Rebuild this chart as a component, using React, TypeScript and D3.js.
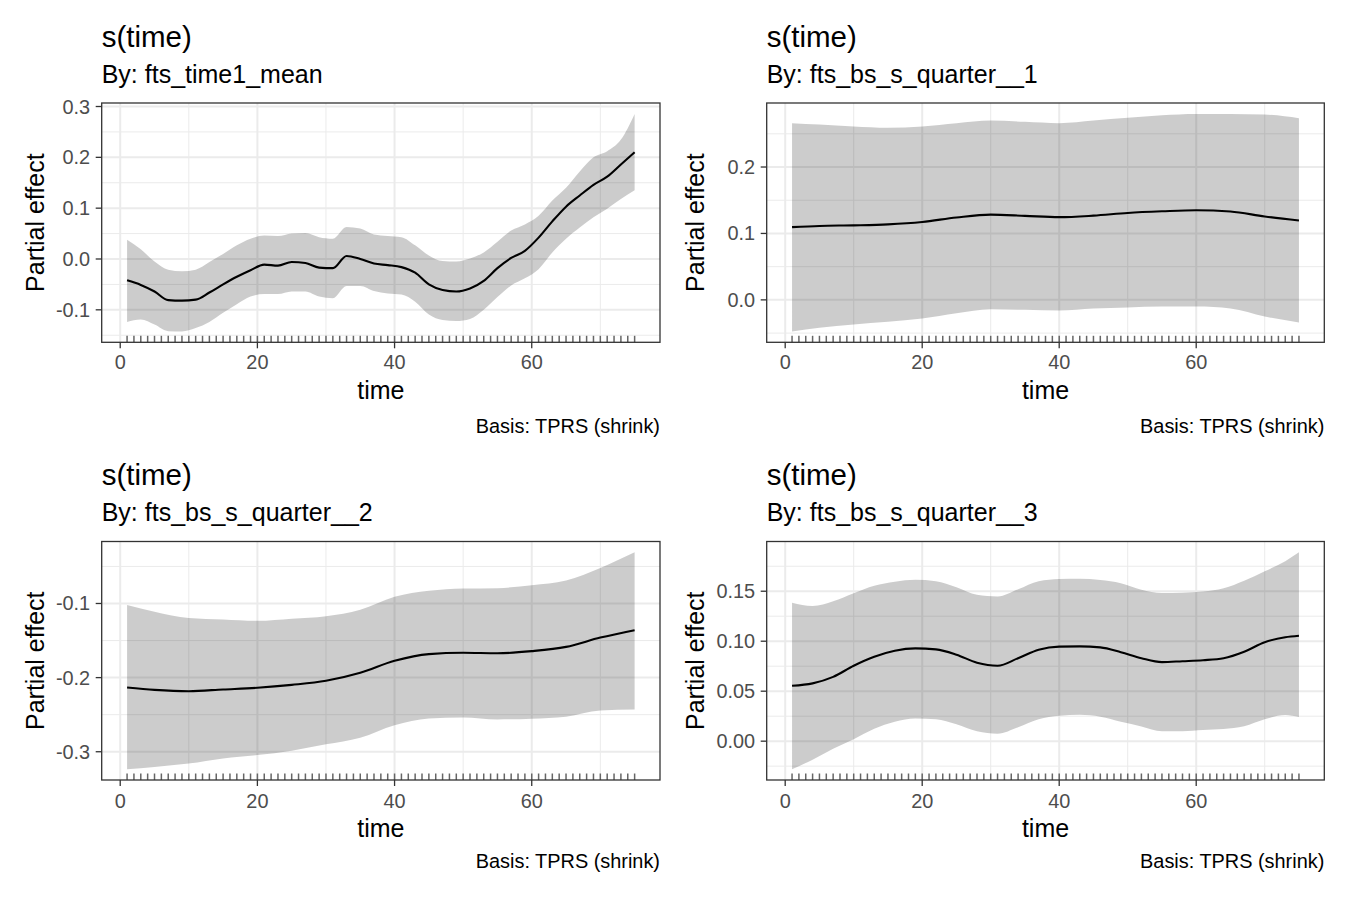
import * as d3 from "d3";

// observation times used for the rug
const OBS_TIME = [
  1, 2, 3, 4, 5, 6, 7, 8, 9, 10, 11, 12, 13, 14, 15, 16, 17, 18, 19, 20, 21, 22, 23, 24, 25,
  26, 27, 28, 29, 30, 31, 32, 33, 34, 35, 36, 37, 38, 39, 40, 41, 42, 43, 44, 45, 46, 47, 48, 49, 50,
  51, 52, 53, 54, 55, 56, 57, 58, 59, 60, 61, 62, 63, 64, 65, 66, 67, 68, 69, 70, 71, 72, 73, 74, 75,
];

// s(time) by fts_time1_mean
const TIME_1 = [1, 3, 5, 7, 9, 11, 13, 15, 17, 19, 21, 23, 25, 27, 29, 31, 33, 35, 37, 39, 41, 43, 45, 47, 49, 51, 53, 55, 57, 59, 61, 63, 65, 67, 69, 71, 73, 75];
const FIT_1 = [-0.042, -0.051, -0.064, -0.081, -0.082, -0.08, -0.066, -0.05, -0.035, -0.022, -0.011, -0.013, -0.006, -0.008, -0.017, -0.018, 0.006, 0.0, -0.009, -0.012, -0.016, -0.027, -0.05, -0.061, -0.064, -0.058, -0.043, -0.018, 0.002, 0.016, 0.042, 0.074, 0.103, 0.125, 0.146, 0.162, 0.186, 0.21];
const UPPER_1 = [0.038, 0.019, -0.005, -0.021, -0.024, -0.021, -0.006, 0.01, 0.027, 0.04, 0.046, 0.045, 0.05, 0.051, 0.043, 0.04, 0.063, 0.06, 0.048, 0.045, 0.043, 0.027, 0.007, -0.004, -0.005, 0.001, 0.013, 0.034, 0.056, 0.068, 0.085, 0.115, 0.14, 0.172, 0.2, 0.212, 0.235, 0.2855];
const LOWER_1 = [-0.124, -0.119, -0.129, -0.142, -0.1425, -0.136, -0.124, -0.106, -0.089, -0.074, -0.069, -0.069, -0.064, -0.064, -0.074, -0.077, -0.053, -0.053, -0.063, -0.068, -0.07, -0.084, -0.109, -0.12, -0.122, -0.118, -0.1, -0.075, -0.052, -0.038, -0.02, 0.013, 0.04, 0.062, 0.082, 0.099, 0.118, 0.135];

// s(time) by fts_bs_s_quarter__1 and __2
const TIME_Q = [1, 5, 10, 15, 20, 25, 30, 35, 40, 45, 50, 55, 60, 65, 70, 75];
const FIT_2 = [0.1095, 0.1113, 0.1122, 0.1137, 0.1173, 0.124, 0.1283, 0.1265, 0.1245, 0.1268, 0.1308, 0.1333, 0.135, 0.133, 0.1255, 0.1195];
const UPPER_2 = [0.266, 0.264, 0.261, 0.259, 0.261, 0.266, 0.27, 0.268, 0.266, 0.27, 0.274, 0.278, 0.28, 0.28, 0.279, 0.2735];
const LOWER_2 = [-0.0475, -0.042, -0.037, -0.033, -0.028, -0.02, -0.014, -0.015, -0.016, -0.013, -0.0115, -0.01, -0.01, -0.013, -0.025, -0.034];

const FIT_3 = [-0.2133, -0.2165, -0.2183, -0.216, -0.2137, -0.2098, -0.2043, -0.1935, -0.1773, -0.1683, -0.1665, -0.1672, -0.1643, -0.1585, -0.146, -0.136];
const UPPER_3 = [-0.1022, -0.111, -0.1195, -0.1215, -0.1234, -0.1205, -0.1173, -0.1085, -0.091, -0.0829, -0.0798, -0.0793, -0.0753, -0.069, -0.052, -0.031];
const LOWER_3 = [-0.3235, -0.3205, -0.316, -0.309, -0.3045, -0.2985, -0.29, -0.281, -0.2641, -0.2551, -0.2537, -0.2564, -0.2555, -0.2528, -0.2445, -0.2429];

// s(time) by fts_bs_s_quarter__3
const TIME_4 = [1, 4, 7, 10, 13, 16, 19, 22, 25, 28, 31, 34, 37, 40, 43, 46, 49, 52, 55, 58, 61, 64, 67, 70, 73, 75];
const FIT_4 = [0.0554, 0.0578, 0.0643, 0.0755, 0.0845, 0.0905, 0.0928, 0.0918, 0.0865, 0.0785, 0.0755, 0.083, 0.0915, 0.0946, 0.0948, 0.0938, 0.089, 0.083, 0.0791, 0.08, 0.081, 0.083, 0.0895, 0.099, 0.104, 0.1055];
const UPPER_4 = [0.1385, 0.1352, 0.14, 0.148, 0.1555, 0.1595, 0.1615, 0.16, 0.154, 0.1465, 0.1448, 0.152, 0.16, 0.1622, 0.1625, 0.1612, 0.158, 0.1515, 0.1482, 0.1486, 0.1497, 0.153, 0.1605, 0.17, 0.18, 0.1889];
const LOWER_4 = [-0.028, -0.0185, -0.0075, 0.002, 0.0125, 0.0195, 0.0228, 0.022, 0.017, 0.01, 0.0075, 0.014, 0.022, 0.0255, 0.0264, 0.0245, 0.0195, 0.0148, 0.01, 0.01, 0.0112, 0.0122, 0.015, 0.022, 0.0262, 0.0241];

const X_TICKS = [0, 20, 40, 60];
const Y_TICKS_1 = [-0.1, 0, 0.1, 0.2, 0.3];
const Y_TICKS_2 = [0, 0.1, 0.2];
const Y_TICKS_3 = [-0.3, -0.2, -0.1];
const Y_TICKS_4 = [0, 0.05, 0.1, 0.15];

const SUBTITLES = ["By: fts_time1_mean", "By: fts_bs_s_quarter__1", "By: fts_bs_s_quarter__2", "By: fts_bs_s_quarter__3"];

const FONT = "'Liberation Sans', Arial, Helvetica, sans-serif";
const W = 1350;
const H = 900;

const COLS = [
  { left: 101.7, right: 660, yTitleX: 44 },
  { left: 766.7, right: 1324.3, yTitleX: 704 },
];
const ROWS = [
  { top: 103, bottom: 342.3, title: 46.7, subtitle: 83.3, tickLabel: 369, axisTitle: 399.3, caption: 433.3 },
  { top: 541.5, bottom: 780, title: 484.7, subtitle: 521.3, tickLabel: 807.7, axisTitle: 837.3, caption: 868.3 },
];

interface PanelSpec {
  time: number[];
  fit: number[];
  upper: number[];
  lower: number[];
  yTicks: number[];
  digits: number;
  subtitle: string;
  col: number;
  row: number;
}

const PANELS: PanelSpec[] = [
  { time: TIME_1, fit: FIT_1, upper: UPPER_1, lower: LOWER_1, yTicks: Y_TICKS_1, digits: 1, subtitle: SUBTITLES[0], col: 0, row: 0 },
  { time: TIME_Q, fit: FIT_2, upper: UPPER_2, lower: LOWER_2, yTicks: Y_TICKS_2, digits: 1, subtitle: SUBTITLES[1], col: 1, row: 0 },
  { time: TIME_Q, fit: FIT_3, upper: UPPER_3, lower: LOWER_3, yTicks: Y_TICKS_3, digits: 1, subtitle: SUBTITLES[2], col: 0, row: 1 },
  { time: TIME_4, fit: FIT_4, upper: UPPER_4, lower: LOWER_4, yTicks: Y_TICKS_4, digits: 2, subtitle: SUBTITLES[3], col: 1, row: 1 },
];

// ggplot-style 5% expansion
function expand([a, b]: [number, number]): [number, number] {
  const pad = (b - a) * 0.05;
  return [a - pad, b + pad];
}

// minor breaks half way between majors, inside the limits
function minorBreaks(major: number[], domain: [number, number]) {
  const step = major[1] - major[0];
  const ext = [major[0] - step, ...major, major[major.length - 1] + step];
  const out: number[] = [];
  for (let i = 0; i < ext.length - 1; i++) out.push((ext[i] + ext[i + 1]) / 2);
  return out.filter((v) => v > domain[0] && v < domain[1]);
}

function Panel({ spec }: { spec: PanelSpec }) {
  const c = COLS[spec.col];
  const r = ROWS[spec.row];

  const xDomain = expand(d3.extent(OBS_TIME) as [number, number]);
  const x = d3.scaleLinear().domain(xDomain).range([c.left, c.right]);
  const yDomain = expand([d3.min(spec.lower)!, d3.max(spec.upper)!]);
  const y = d3.scaleLinear().domain(yDomain).range([r.bottom, r.top]);

  const rows = spec.time.map((t, i) => ({ t, fit: spec.fit[i], lo: spec.lower[i], hi: spec.upper[i] }));
  const area = d3
    .area<(typeof rows)[number]>()
    .x((d) => x(d.t))
    .y0((d) => y(d.lo))
    .y1((d) => y(d.hi))
    .curve(d3.curveMonotoneX);
  const line = d3
    .line<(typeof rows)[number]>()
    .x((d) => x(d.t))
    .y((d) => y(d.fit))
    .curve(d3.curveMonotoneX);

  const xMajor = X_TICKS.filter((v) => v >= xDomain[0] && v <= xDomain[1]);
  const xMinor = minorBreaks(X_TICKS, xDomain);
  const yMinor = minorBreaks(spec.yTicks, yDomain);
  const fmt = (v: number) => d3.format(`.${spec.digits}f`)(v).replace("\u2212", "-");
  const midY = (r.top + r.bottom) / 2;

  return (
    <g>
      <text x={c.left} y={r.title} fontSize={29.5} fill="#000">s(time)</text>
      <text x={c.left} y={r.subtitle} fontSize={25} fill="#000">{spec.subtitle}</text>

      {/* grid */}
      {yMinor.map((v) => (
        <line key={`ym${v}`} x1={c.left} x2={c.right} y1={y(v)} y2={y(v)} stroke="#ebebeb" strokeWidth={1} />
      ))}
      {xMinor.map((v) => (
        <line key={`xm${v}`} x1={x(v)} x2={x(v)} y1={r.top} y2={r.bottom} stroke="#ebebeb" strokeWidth={1} />
      ))}
      {spec.yTicks.map((v) => (
        <line key={`yM${v}`} x1={c.left} x2={c.right} y1={y(v)} y2={y(v)} stroke="#ebebeb" strokeWidth={2} />
      ))}
      {xMajor.map((v) => (
        <line key={`xM${v}`} x1={x(v)} x2={x(v)} y1={r.top} y2={r.bottom} stroke="#ebebeb" strokeWidth={2} />
      ))}

      {/* confidence band and fit */}
      <path d={area(rows) ?? ""} fill="#000" fillOpacity={0.2} />
      <path d={line(rows) ?? ""} fill="none" stroke="#000" strokeWidth={2.1} />

      {/* rug */}
      {OBS_TIME.map((t) => (
        <line key={`r${t}`} x1={x(t)} x2={x(t)} y1={r.bottom} y2={r.bottom - 6.5} stroke="#666" strokeWidth={1.5} />
      ))}

      <rect x={c.left} y={r.top} width={c.right - c.left} height={r.bottom - r.top} fill="none" stroke="#333" strokeWidth={1.3} />

      {/* x axis */}
      {xMajor.map((v) => (
        <g key={`xt${v}`}>
          <line x1={x(v)} x2={x(v)} y1={r.bottom} y2={r.bottom + 6} stroke="#333" strokeWidth={1.3} />
          <text x={x(v)} y={r.tickLabel} fontSize={19.9} fill="#4d4d4d" textAnchor="middle">{v}</text>
        </g>
      ))}
      <text x={(c.left + c.right) / 2} y={r.axisTitle} fontSize={25} fill="#000" textAnchor="middle">time</text>

      {/* y axis */}
      {spec.yTicks.map((v) => (
        <g key={`yt${v}`}>
          <line x1={c.left - 6} x2={c.left} y1={y(v)} y2={y(v)} stroke="#333" strokeWidth={1.3} />
          <text x={c.left - 11.5} y={y(v) + 7} fontSize={19.9} fill="#4d4d4d" textAnchor="end">{fmt(v)}</text>
        </g>
      ))}
      <text
        transform={`translate(${c.yTitleX},${midY}) rotate(-90)`}
        fontSize={25}
        fill="#000"
        textAnchor="middle"
      >
        Partial effect
      </text>

      <text x={c.right} y={r.caption} fontSize={19.9} fill="#000" textAnchor="end">Basis: TPRS (shrink)</text>
    </g>
  );
}

export default function App() {
  return (
    <svg
      width={W}
      height={H}
      viewBox={`0 0 ${W} ${H}`}
      style={{ position: "absolute", left: 0, top: 0, background: "#fff" }}
      fontFamily={FONT}
    >
      <rect width={W} height={H} fill="#fff" />
      {PANELS.map((p, i) => (
        <Panel key={i} spec={p} />
      ))}
    </svg>
  );
}
